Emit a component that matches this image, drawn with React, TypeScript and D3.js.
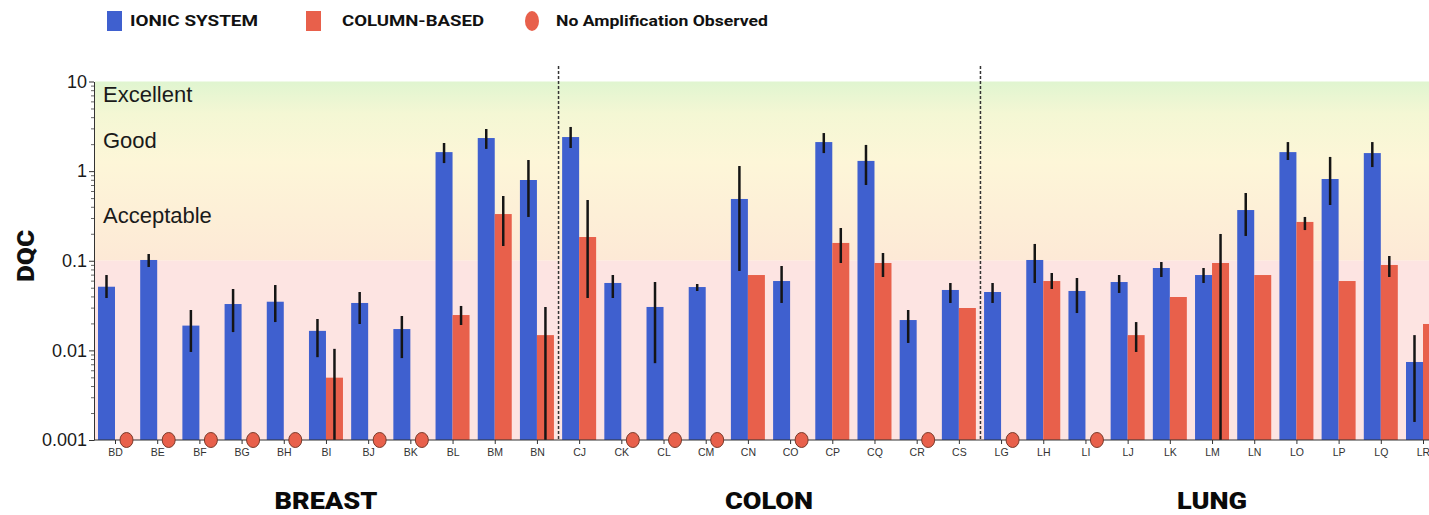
import React, { useEffect, useRef } from 'react';
import * as d3 from 'd3';

const breast = ['BD', 'BE', 'BF', 'BG', 'BH', 'BI', 'BJ', 'BK', 'BL', 'BM', 'BN'];
const colon = ['CJ', 'CK', 'CL', 'CM', 'CN', 'CO', 'CP', 'CQ', 'CR', 'CS'];
const lung = ['LG', 'LH', 'LI', 'LJ', 'LK', 'LM', 'LN', 'LO', 'LP', 'LQ', 'LR'];
const categories = [...breast, ...colon, ...lung];
const tissues = ['BREAST', 'COLON', 'LUNG'];
const tissueGroups = [breast, colon, lung];

const yTicks = [10, 1, 0.1, 0.01, 0.001];
const zones = ['Excellent', 'Good', 'Acceptable'];
const zoneValues = [7.2, 2.2, 0.32];

// IONIC SYSTEM: mean and error bar range
const ionic = [0.0513, 0.102, 0.0189, 0.0329, 0.0349, 0.0165, 0.0338, 0.0173, 1.63, 2.34, 0.796,
  2.40, 0.0565, 0.0305, 0.0509, 0.489, 0.0594, 2.11, 1.30, 0.0218, 0.0472,
  0.0448, 0.102, 0.046, 0.0579, 0.083, 0.0693, 0.368, 1.63, 0.817, 1.59, 0.00742];
const ionicLow = [0.0384, 0.0852, 0.0096, 0.016, 0.0207, 0.0084, 0.0197, 0.0082, 1.23, 1.77, 0.308,
  1.81, 0.0384, 0.0072, 0.046, 0.0769, 0.0338, 1.59, 0.70, 0.0121, 0.0338,
  0.0338, 0.0565, 0.0261, 0.0437, 0.0659, 0.0565, 0.189, 1.33, 0.419, 1.11, 0.00159];
const ionicHigh = [0.0693, 0.119, 0.0282, 0.0484, 0.0536, 0.0224, 0.0448, 0.0242, 2.06, 2.95, 1.33,
  3.11, 0.0693, 0.0579, 0.055, 1.14, 0.0874, 2.66, 1.96, 0.0282, 0.0565,
  0.0565, 0.154, 0.0642, 0.0693, 0.0968, 0.083, 0.57, 2.11, 1.44, 2.11, 0.0148];

// COLUMN-BASED: null = no amplification observed
const column = [null, null, null, null, null, 0.00496, null, null, 0.0248, 0.332, 0.0148,
  0.184, null, null, null, 0.0693, null, 0.158, 0.0944, null, 0.0297,
  null, 0.0594, null, 0.0148, 0.0394, 0.0944, 0.0693, 0.271, 0.0594, 0.0897, 0.0197];
const columnLow = [null, null, null, null, null, 0.001, null, null, 0.0192, 0.146, 0.001,
  0.0384, null, null, null, null, null, 0.0944, 0.0659, null, null,
  null, 0.0484, null, 0.0096, null, 0.001, null, 0.22, null, 0.0659, null];
const columnHigh = [null, null, null, null, null, 0.0104, null, null, 0.0313, 0.528, 0.0305,
  0.476, null, null, null, null, null, 0.232, 0.122, null, null,
  null, 0.073, null, 0.0207, null, 0.199, null, 0.308, null, 0.113, null];

const BLUE = '#3f60cf';
const RED = '#e8604b';

const App = () => {
  const ref = useRef<SVGSVGElement>(null);

  useEffect(() => {
    const svg = d3.select(ref.current);
    svg.selectAll('*').remove();

    const width = 1429;
    const left = 94;
    const top = 81.5;
    const bottom = 440;
    const barW = 17;

    const y = d3.scaleLog().domain([0.001, 10]).range([bottom, top]);
    const x = d3.scalePoint().domain(categories).range([115, 1423]);

    // background zones
    const defs = svg.append('defs');
    const grad = defs.append('linearGradient')
      .attr('id', 'zoneGrad')
      .attr('x1', 0).attr('y1', 0).attr('x2', 0).attr('y2', 1);
    grad.append('stop').attr('offset', '0%').attr('stop-color', '#e0f5d0');
    grad.append('stop').attr('offset', '18%').attr('stop-color', '#f4f7d4');
    grad.append('stop').attr('offset', '45%').attr('stop-color', '#fdf6d8');
    grad.append('stop').attr('offset', '100%').attr('stop-color', '#fde9d6');

    svg.append('rect')
      .attr('x', left + 1).attr('y', y(10))
      .attr('width', width - left).attr('height', y(0.1) - y(10))
      .attr('fill', 'url(#zoneGrad)');
    svg.append('rect')
      .attr('x', left + 1).attr('y', y(0.1))
      .attr('width', width - left).attr('height', y(0.001) - y(0.1))
      .attr('fill', '#fde4e2');

    svg.selectAll('.zone')
      .data(zones)
      .enter()
      .append('text')
      .attr('x', 103)
      .attr('y', (d, i) => y(zoneValues[i]))
      .attr('dy', '0.35em')
      .attr('font-family', 'Liberation Sans, Arial, sans-serif')
      .attr('font-size', 22)
      .attr('fill', '#1a1a1a')
      .text(d => d);

    // bars
    svg.selectAll('.ionic')
      .data(categories)
      .enter()
      .append('rect')
      .attr('x', d => (x(d) as number) - barW)
      .attr('y', (d, i) => y(ionic[i]))
      .attr('width', barW)
      .attr('height', (d, i) => bottom - y(ionic[i]))
      .attr('fill', BLUE);

    const colIdx = categories.map((d, i) => i).filter(i => column[i] !== null);
    svg.selectAll('.column')
      .data(colIdx)
      .enter()
      .append('rect')
      .attr('x', i => x(categories[i]) as number)
      .attr('y', i => y(column[i] as number))
      .attr('width', barW)
      .attr('height', i => bottom - y(column[i] as number))
      .attr('fill', RED);

    // error bars
    svg.selectAll('.ionicErr')
      .data(categories)
      .enter()
      .append('line')
      .attr('x1', d => (x(d) as number) - barW / 2)
      .attr('x2', d => (x(d) as number) - barW / 2)
      .attr('y1', (d, i) => y(ionicLow[i]))
      .attr('y2', (d, i) => y(ionicHigh[i]))
      .attr('stroke', '#151515')
      .attr('stroke-width', 2.5);

    const errIdx = categories.map((d, i) => i).filter(i => columnLow[i] !== null);
    svg.selectAll('.colErr')
      .data(errIdx)
      .enter()
      .append('line')
      .attr('x1', i => (x(categories[i]) as number) + barW / 2)
      .attr('x2', i => (x(categories[i]) as number) + barW / 2)
      .attr('y1', i => y(columnLow[i] as number))
      .attr('y2', i => y(columnHigh[i] as number))
      .attr('stroke', '#151515')
      .attr('stroke-width', 2.5);

    // tissue separators
    [breast[breast.length - 1], colon[colon.length - 1]].forEach((c, k) => {
      const next = tissueGroups[k + 1][0];
      const sx = ((x(c) as number) + (x(next) as number)) / 2 + 0.5;
      svg.append('line')
        .attr('x1', sx).attr('x2', sx)
        .attr('y1', 66).attr('y2', bottom)
        .attr('stroke', '#333')
        .attr('stroke-width', 1.5)
        .attr('stroke-dasharray', '3,2');
    });

    // axes
    const xAxisGroup = svg.append('g')
      .attr('transform', `translate(0, ${bottom})`)
      .call(d3.axisBottom(x).tickSize(4).tickPadding(5));
    xAxisGroup.select('.domain').attr('d', `M${left},0H${width}`).attr('stroke', '#333');
    xAxisGroup.selectAll('.tick line').attr('stroke', '#333');
    xAxisGroup.selectAll('text')
      .attr('font-family', 'Liberation Sans, Arial, sans-serif')
      .attr('font-size', 10.5)
      .attr('fill', '#333');

    const minor = d3.range(-3, 1).flatMap(e => d3.range(2, 10).map(m => m * Math.pow(10, e)));
    svg.append('g')
      .attr('transform', `translate(${left}, 0)`)
      .call(d3.axisLeft(y).tickValues(minor).tickSize(3).tickFormat(() => ''))
      .call(g => g.select('.domain').remove())
      .selectAll('line').attr('stroke', '#666');

    const yAxisGroup = svg.append('g')
      .attr('transform', `translate(${left}, 0)`)
      .call(d3.axisLeft(y).tickValues(yTicks).tickSize(5).tickSizeOuter(0).tickPadding(2)
        .tickFormat(d => String(d)));
    yAxisGroup.select('.domain').attr('stroke', '#333');
    yAxisGroup.selectAll('.tick line').attr('stroke', '#333');
    yAxisGroup.selectAll('text')
      .attr('font-family', 'Liberation Sans, Arial, sans-serif')
      .attr('font-size', 18)
      .attr('fill', '#1a1a1a');

    // no amplification markers (drawn over the axis)
    const noAmp = categories.map((d, i) => i).filter(i => column[i] === null);
    svg.selectAll('.noamp')
      .data(noAmp)
      .enter()
      .append('ellipse')
      .attr('cx', i => (x(categories[i]) as number) + barW / 2 + 3)
      .attr('cy', bottom)
      .attr('rx', 6.5)
      .attr('ry', 7.5)
      .attr('fill', RED)
      .attr('stroke', '#7a3a2a')
      .attr('stroke-width', 1);

    // y label
    svg.append('text')
      .attr('transform', `translate(26, 256) rotate(-90)`)
      .attr('text-anchor', 'middle')
      .attr('dy', '0.35em')
      .attr('font-family', 'Roboto, Liberation Sans, sans-serif')
      .attr('font-weight', 900)
      .attr('font-size', 23)
      .attr('textLength', 52)
      .attr('lengthAdjust', 'spacingAndGlyphs')
      .attr('fill', '#111')
      .text('DQC');

    // tissue labels
    const tissueWidths = [103, 88, 70];
    svg.selectAll('.tissue')
      .data(tissues)
      .enter()
      .append('text')
      .attr('x', (d, i) => {
        const g = tissueGroups[i];
        return ((x(g[0]) as number) + (x(g[g.length - 1]) as number)) / 2;
      })
      .attr('y', 509)
      .attr('text-anchor', 'middle')
      .attr('font-family', 'Roboto, Liberation Sans, sans-serif')
      .attr('font-weight', 900)
      .attr('font-size', 24)
      .attr('textLength', (d, i) => tissueWidths[i])
      .attr('lengthAdjust', 'spacingAndGlyphs')
      .attr('fill', '#0a0a0a')
      .text(d => d);

    // legend
    const legend = svg.append('g').attr('font-family', 'Roboto, Liberation Sans, sans-serif')
      .attr('font-weight', 700).attr('font-size', 15).attr('fill', '#111');
    legend.append('rect').attr('x', 107).attr('y', 11).attr('width', 15).attr('height', 20).attr('fill', BLUE);
    legend.append('text').attr('x', 130).attr('y', 21).attr('dy', '0.35em')
      .attr('textLength', 128).attr('lengthAdjust', 'spacingAndGlyphs').text('IONIC SYSTEM');
    legend.append('rect').attr('x', 306).attr('y', 11).attr('width', 15).attr('height', 20).attr('fill', RED);
    legend.append('text').attr('x', 342).attr('y', 21).attr('dy', '0.35em')
      .attr('textLength', 142).attr('lengthAdjust', 'spacingAndGlyphs').text('COLUMN-BASED');
    legend.append('ellipse').attr('cx', 532).attr('cy', 21).attr('rx', 7).attr('ry', 10).attr('fill', RED);
    legend.append('text').attr('x', 556).attr('y', 21).attr('dy', '0.35em')
      .attr('textLength', 212).attr('lengthAdjust', 'spacingAndGlyphs').text('No Amplification Observed');
  }, []);

  return (
    <div style={{ position: 'absolute', left: 0, top: 0 }}>
      <svg ref={ref} width={1429} height={515} style={{ display: 'block', background: '#fff' }} />
    </div>
  );
};

export default App;
